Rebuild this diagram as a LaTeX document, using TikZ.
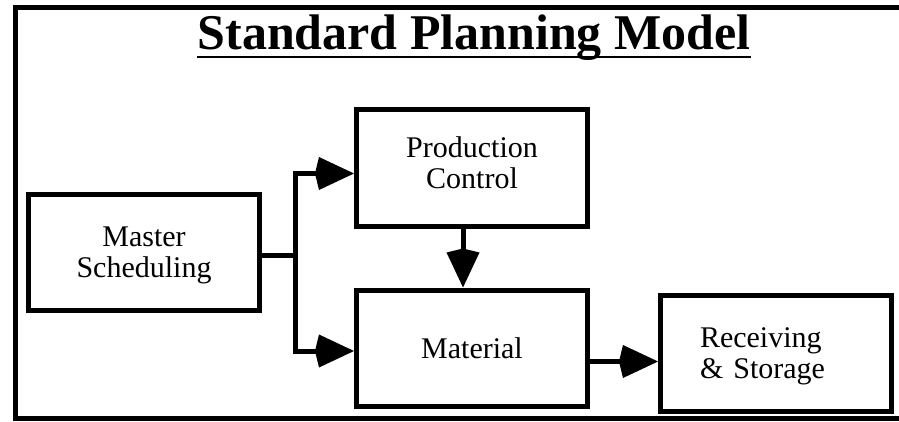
\documentclass[tikz,border=0pt]{standalone}
\usepackage{fontspec}
\setmainfont{Liberation Serif}
\usetikzlibrary{positioning,arrows.meta}

\begin{document}
\begin{tikzpicture}[x=1pt,y=1pt,
    blocknode/.style={rectangle, draw=black, line width=5pt, minimum width=231pt, minimum height=116pt, align=center, text depth=0pt, font=\fontsize{30}{31}\selectfont},
    flowline/.style={line width=5pt, -{Kite[length=39pt, width=33pt, inset=4pt, line width=0pt]}},
    plainline/.style={line width=5pt},
    titlenode/.style={inner sep=0pt, anchor=base, font=\fontsize{50}{60}\selectfont\bfseries}]

    \useasboundingbox (0,0) rectangle (899,421);
    \clip (0,0) rectangle (899,421);

    % outer frame, open to the right
    \draw[line width=5pt] (905,413.5) -| (15,2.5) -- (905,2.5);

    \node[titlenode] (title) at (474,371.7) {Standard Planning Model};
    \draw[line width=2pt] ([yshift=-8pt]title.base west) -- ([yshift=-8pt]title.base east);

    \node[blocknode] (material) at (472,73) {Material};
    \node[blocknode, text depth=10pt] (production) [above=59pt of material] {Production\\Control};
    \node[blocknode] (master) [left=92pt of material, yshift=95.5pt] {Master\\Scheduling};
    \node[blocknode, align=left, text width=152pt, inner xsep=39.5pt, text depth=32pt] (receiving) [right=68pt of material, yshift=-5.5pt] {Receiving\\\& Storage};

    \coordinate (fork) at ([xshift=33pt, yshift=-2.5pt]master.east);
    \draw[plainline] ([yshift=-2.5pt]master.east) -- (fork);
    \draw[flowline] (fork) |- ([yshift=-5.5pt]production.west);
    \draw[flowline] (fork) |- ([yshift=-3pt]material.west);
    \draw[flowline] ([xshift=-9pt]production.south) -- ([xshift=-9pt]production.south |- material.north);
    \draw[flowline] ([yshift=-13.5pt]material.east) -- ([yshift=-13.5pt]material.east -| receiving.west);
\end{tikzpicture}
\end{document}
